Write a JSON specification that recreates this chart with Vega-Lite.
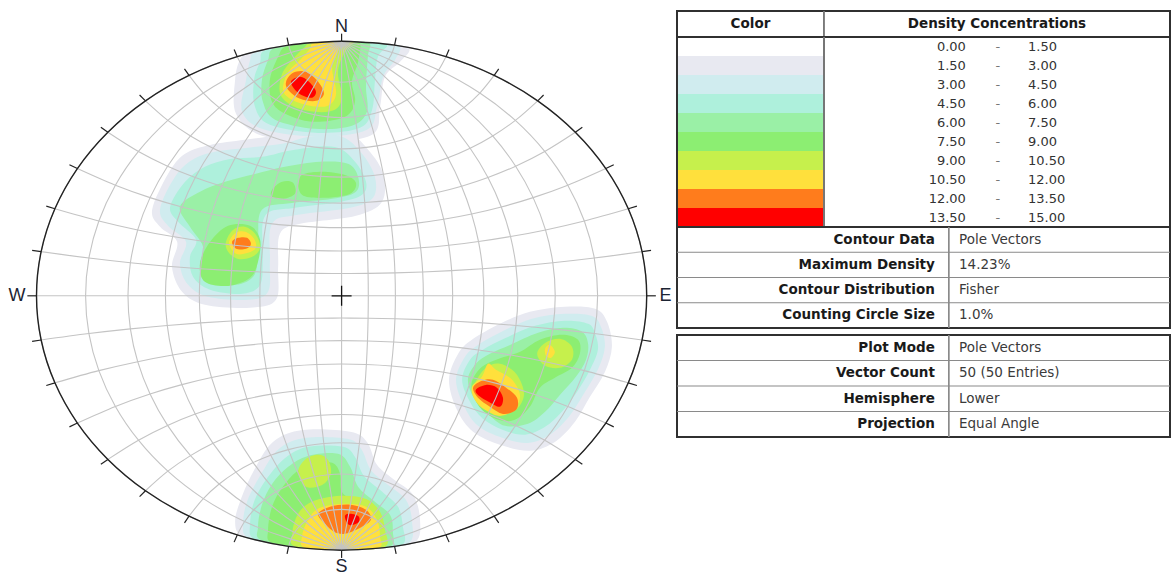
{
"$schema": "https://vega.github.io/schema/vega-lite/v6.json",
"padding": {"left": 0, "top": 9, "right": 0, "bottom": 0},
"background": "white",
"spacing": 0,
"bounds": "flush",
"config": {"view": {"stroke": "#303030", "strokeWidth": 2}},
"datasets": {
"net": [
{"l":-90,"p":90,"x":0,"y":1},{"l":-80,"p":90,"x":0,"y":1},{"l":-70,"p":90,"x":0,"y":1},{"l":-60,"p":90,"x":0,"y":1},{"l":-50,"p":90,"x":0,"y":1},{"l":-40,"p":90,"x":0,"y":1},{"l":-30,"p":90,"x":0,"y":1},{"l":-20,"p":90,"x":0,"y":1},{"l":-10,"p":90,"x":0,"y":1},{"l":0,"p":90,"x":0,"y":1},{"l":10,"p":90,"x":0,"y":1},{"l":20,"p":90,"x":0,"y":1},{"l":30,"p":90,"x":0,"y":1},{"l":40,"p":90,"x":0,"y":1},{"l":50,"p":90,"x":0,"y":1},{"l":60,"p":90,"x":0,"y":1},{"l":70,"p":90,"x":0,"y":1},{"l":80,"p":90,"x":0,"y":1},{"l":90,"p":90,"x":0,"y":1},
{"l":-90,"p":80,"x":-0.1736,"y":0.9848},{"l":-80,"p":80,"x":-0.166,"y":0.956},{"l":-70,"p":80,"x":-0.154,"y":0.9296},{"l":-60,"p":80,"x":-0.1384,"y":0.9061},{"l":-50,"p":80,"x":-0.1197,"y":0.8859},{"l":-40,"p":80,"x":-0.0985,"y":0.8692},{"l":-30,"p":80,"x":-0.0755,"y":0.8561},{"l":-20,"p":80,"x":-0.0511,"y":0.8467},{"l":-10,"p":80,"x":-0.0258,"y":0.841},{"l":0,"p":80,"x":0,"y":0.8391},{"l":10,"p":80,"x":0.0258,"y":0.841},{"l":20,"p":80,"x":0.0511,"y":0.8467},{"l":30,"p":80,"x":0.0755,"y":0.8561},{"l":40,"p":80,"x":0.0985,"y":0.8692},{"l":50,"p":80,"x":0.1197,"y":0.8859},{"l":60,"p":80,"x":0.1384,"y":0.9061},{"l":70,"p":80,"x":0.154,"y":0.9296},{"l":80,"p":80,"x":0.166,"y":0.956},{"l":90,"p":80,"x":0.1736,"y":0.9848},
{"l":-90,"p":70,"x":-0.342,"y":0.9397},{"l":-80,"p":70,"x":-0.3179,"y":0.887},{"l":-70,"p":70,"x":-0.2877,"y":0.8413},{"l":-60,"p":70,"x":-0.2529,"y":0.8025},{"l":-50,"p":70,"x":-0.2148,"y":0.7703},{"l":-40,"p":70,"x":-0.1742,"y":0.7446},{"l":-30,"p":70,"x":-0.1319,"y":0.725},{"l":-20,"p":70,"x":-0.0885,"y":0.7111},{"l":-10,"p":70,"x":-0.0444,"y":0.7029},{"l":0,"p":70,"x":0,"y":0.7002},{"l":10,"p":70,"x":0.0444,"y":0.7029},{"l":20,"p":70,"x":0.0885,"y":0.7111},{"l":30,"p":70,"x":0.1319,"y":0.725},{"l":40,"p":70,"x":0.1742,"y":0.7446},{"l":50,"p":70,"x":0.2148,"y":0.7703},{"l":60,"p":70,"x":0.2529,"y":0.8025},{"l":70,"p":70,"x":0.2877,"y":0.8413},{"l":80,"p":70,"x":0.3179,"y":0.887},{"l":90,"p":70,"x":0.342,"y":0.9397},
{"l":-90,"p":60,"x":-0.5,"y":0.866},{"l":-80,"p":60,"x":-0.4531,"y":0.7968},{"l":-70,"p":60,"x":-0.4012,"y":0.7396},{"l":-60,"p":60,"x":-0.3464,"y":0.6928},{"l":-50,"p":60,"x":-0.2899,"y":0.6554},{"l":-40,"p":60,"x":-0.2324,"y":0.6262},{"l":-30,"p":60,"x":-0.1745,"y":0.6043},{"l":-20,"p":60,"x":-0.1164,"y":0.5892},{"l":-10,"p":60,"x":-0.0582,"y":0.5803},{"l":0,"p":60,"x":0,"y":0.5774},{"l":10,"p":60,"x":0.0582,"y":0.5803},{"l":20,"p":60,"x":0.1164,"y":0.5892},{"l":30,"p":60,"x":0.1745,"y":0.6043},{"l":40,"p":60,"x":0.2324,"y":0.6262},{"l":50,"p":60,"x":0.2899,"y":0.6554},{"l":60,"p":60,"x":0.3464,"y":0.6928},{"l":70,"p":60,"x":0.4012,"y":0.7396},{"l":80,"p":60,"x":0.4531,"y":0.7968},{"l":90,"p":60,"x":0.5,"y":0.866},
{"l":-90,"p":50,"x":-0.6428,"y":0.766},{"l":-80,"p":50,"x":-0.5695,"y":0.6891},{"l":-70,"p":50,"x":-0.4952,"y":0.628},{"l":-60,"p":50,"x":-0.4213,"y":0.5797},{"l":-50,"p":50,"x":-0.3484,"y":0.5421},{"l":-40,"p":50,"x":-0.2769,"y":0.5133},{"l":-30,"p":50,"x":-0.2065,"y":0.4921},{"l":-20,"p":50,"x":-0.1371,"y":0.4776},{"l":-10,"p":50,"x":-0.0684,"y":0.4691},{"l":0,"p":50,"x":0,"y":0.4663},{"l":10,"p":50,"x":0.0684,"y":0.4691},{"l":20,"p":50,"x":0.1371,"y":0.4776},{"l":30,"p":50,"x":0.2065,"y":0.4921},{"l":40,"p":50,"x":0.2769,"y":0.5133},{"l":50,"p":50,"x":0.3484,"y":0.5421},{"l":60,"p":50,"x":0.4213,"y":0.5797},{"l":70,"p":50,"x":0.4952,"y":0.628},{"l":80,"p":50,"x":0.5695,"y":0.6891},{"l":90,"p":50,"x":0.6428,"y":0.766},
{"l":-90,"p":40,"x":-0.766,"y":0.6428},{"l":-80,"p":40,"x":-0.6658,"y":0.5673},{"l":-70,"p":40,"x":-0.5704,"y":0.5093},{"l":-60,"p":40,"x":-0.4797,"y":0.4648},{"l":-50,"p":40,"x":-0.3932,"y":0.4307},{"l":-40,"p":40,"x":-0.3103,"y":0.4051},{"l":-30,"p":40,"x":-0.2303,"y":0.3864},{"l":-20,"p":40,"x":-0.1523,"y":0.3738},{"l":-10,"p":40,"x":-0.0758,"y":0.3664},{"l":0,"p":40,"x":0,"y":0.364},{"l":10,"p":40,"x":0.0758,"y":0.3664},{"l":20,"p":40,"x":0.1523,"y":0.3738},{"l":30,"p":40,"x":0.2303,"y":0.3864},{"l":40,"p":40,"x":0.3103,"y":0.4051},{"l":50,"p":40,"x":0.3932,"y":0.4307},{"l":60,"p":40,"x":0.4797,"y":0.4648},{"l":70,"p":40,"x":0.5704,"y":0.5093},{"l":80,"p":40,"x":0.6658,"y":0.5673},{"l":90,"p":40,"x":0.766,"y":0.6428},
{"l":-90,"p":30,"x":-0.866,"y":0.5},{"l":-80,"p":30,"x":-0.7414,"y":0.4346},{"l":-70,"p":30,"x":-0.6278,"y":0.3857},{"l":-60,"p":30,"x":-0.5234,"y":0.3489},{"l":-50,"p":30,"x":-0.4262,"y":0.3212},{"l":-40,"p":30,"x":-0.3347,"y":0.3006},{"l":-30,"p":30,"x":-0.2474,"y":0.2857},{"l":-20,"p":30,"x":-0.1633,"y":0.2757},{"l":-10,"p":30,"x":-0.0812,"y":0.2699},{"l":0,"p":30,"x":0,"y":0.2679},{"l":10,"p":30,"x":0.0812,"y":0.2699},{"l":20,"p":30,"x":0.1633,"y":0.2757},{"l":30,"p":30,"x":0.2474,"y":0.2857},{"l":40,"p":30,"x":0.3347,"y":0.3006},{"l":50,"p":30,"x":0.4262,"y":0.3212},{"l":60,"p":30,"x":0.5234,"y":0.3489},{"l":70,"p":30,"x":0.6278,"y":0.3857},{"l":80,"p":30,"x":0.7414,"y":0.4346},{"l":90,"p":30,"x":0.866,"y":0.5},
{"l":-90,"p":20,"x":-0.9397,"y":0.342},{"l":-80,"p":20,"x":-0.7956,"y":0.294},{"l":-70,"p":20,"x":-0.6683,"y":0.2588},{"l":-60,"p":20,"x":-0.5537,"y":0.2327},{"l":-50,"p":20,"x":-0.4488,"y":0.2132},{"l":-40,"p":20,"x":-0.3512,"y":0.1989},{"l":-30,"p":20,"x":-0.259,"y":0.1886},{"l":-20,"p":20,"x":-0.1707,"y":0.1816},{"l":-10,"p":20,"x":-0.0848,"y":0.1776},{"l":0,"p":20,"x":0,"y":0.1763},{"l":10,"p":20,"x":0.0848,"y":0.1776},{"l":20,"p":20,"x":0.1707,"y":0.1816},{"l":30,"p":20,"x":0.259,"y":0.1886},{"l":40,"p":20,"x":0.3512,"y":0.1989},{"l":50,"p":20,"x":0.4488,"y":0.2132},{"l":60,"p":20,"x":0.5537,"y":0.2327},{"l":70,"p":20,"x":0.6683,"y":0.2588},{"l":80,"p":20,"x":0.7956,"y":0.294},{"l":90,"p":20,"x":0.9397,"y":0.342},
{"l":-90,"p":10,"x":-0.9848,"y":0.1736},{"l":-80,"p":10,"x":-0.8282,"y":0.1483},{"l":-70,"p":10,"x":-0.6923,"y":0.1299},{"l":-60,"p":10,"x":-0.5715,"y":0.1164},{"l":-50,"p":10,"x":-0.462,"y":0.1063},{"l":-40,"p":10,"x":-0.3608,"y":0.099},{"l":-30,"p":10,"x":-0.2658,"y":0.0937},{"l":-20,"p":10,"x":-0.1749,"y":0.0902},{"l":-10,"p":10,"x":-0.0868,"y":0.0882},{"l":0,"p":10,"x":0,"y":0.0875},{"l":10,"p":10,"x":0.0868,"y":0.0882},{"l":20,"p":10,"x":0.1749,"y":0.0902},{"l":30,"p":10,"x":0.2658,"y":0.0937},{"l":40,"p":10,"x":0.3608,"y":0.099},{"l":50,"p":10,"x":0.462,"y":0.1063},{"l":60,"p":10,"x":0.5715,"y":0.1164},{"l":70,"p":10,"x":0.6923,"y":0.1299},{"l":80,"p":10,"x":0.8282,"y":0.1483},{"l":90,"p":10,"x":0.9848,"y":0.1736},
{"l":-90,"p":0,"x":-1,"y":0},{"l":-80,"p":0,"x":-0.8391,"y":0},{"l":-70,"p":0,"x":-0.7002,"y":0},{"l":-60,"p":0,"x":-0.5774,"y":0},{"l":-50,"p":0,"x":-0.4663,"y":0},{"l":-40,"p":0,"x":-0.364,"y":0},{"l":-30,"p":0,"x":-0.2679,"y":0},{"l":-20,"p":0,"x":-0.1763,"y":0},{"l":-10,"p":0,"x":-0.0875,"y":0},{"l":0,"p":0,"x":0,"y":0},{"l":10,"p":0,"x":0.0875,"y":0},{"l":20,"p":0,"x":0.1763,"y":0},{"l":30,"p":0,"x":0.2679,"y":0},{"l":40,"p":0,"x":0.364,"y":0},{"l":50,"p":0,"x":0.4663,"y":0},{"l":60,"p":0,"x":0.5774,"y":0},{"l":70,"p":0,"x":0.7002,"y":0},{"l":80,"p":0,"x":0.8391,"y":0},{"l":90,"p":0,"x":1,"y":0},
{"l":-90,"p":-10,"x":-0.9848,"y":-0.1736},{"l":-80,"p":-10,"x":-0.8282,"y":-0.1483},{"l":-70,"p":-10,"x":-0.6923,"y":-0.1299},{"l":-60,"p":-10,"x":-0.5715,"y":-0.1164},{"l":-50,"p":-10,"x":-0.462,"y":-0.1063},{"l":-40,"p":-10,"x":-0.3608,"y":-0.099},{"l":-30,"p":-10,"x":-0.2658,"y":-0.0937},{"l":-20,"p":-10,"x":-0.1749,"y":-0.0902},{"l":-10,"p":-10,"x":-0.0868,"y":-0.0882},{"l":0,"p":-10,"x":0,"y":-0.0875},{"l":10,"p":-10,"x":0.0868,"y":-0.0882},{"l":20,"p":-10,"x":0.1749,"y":-0.0902},{"l":30,"p":-10,"x":0.2658,"y":-0.0937},{"l":40,"p":-10,"x":0.3608,"y":-0.099},{"l":50,"p":-10,"x":0.462,"y":-0.1063},{"l":60,"p":-10,"x":0.5715,"y":-0.1164},{"l":70,"p":-10,"x":0.6923,"y":-0.1299},{"l":80,"p":-10,"x":0.8282,"y":-0.1483},{"l":90,"p":-10,"x":0.9848,"y":-0.1736},
{"l":-90,"p":-20,"x":-0.9397,"y":-0.342},{"l":-80,"p":-20,"x":-0.7956,"y":-0.294},{"l":-70,"p":-20,"x":-0.6683,"y":-0.2588},{"l":-60,"p":-20,"x":-0.5537,"y":-0.2327},{"l":-50,"p":-20,"x":-0.4488,"y":-0.2132},{"l":-40,"p":-20,"x":-0.3512,"y":-0.1989},{"l":-30,"p":-20,"x":-0.259,"y":-0.1886},{"l":-20,"p":-20,"x":-0.1707,"y":-0.1816},{"l":-10,"p":-20,"x":-0.0848,"y":-0.1776},{"l":0,"p":-20,"x":0,"y":-0.1763},{"l":10,"p":-20,"x":0.0848,"y":-0.1776},{"l":20,"p":-20,"x":0.1707,"y":-0.1816},{"l":30,"p":-20,"x":0.259,"y":-0.1886},{"l":40,"p":-20,"x":0.3512,"y":-0.1989},{"l":50,"p":-20,"x":0.4488,"y":-0.2132},{"l":60,"p":-20,"x":0.5537,"y":-0.2327},{"l":70,"p":-20,"x":0.6683,"y":-0.2588},{"l":80,"p":-20,"x":0.7956,"y":-0.294},{"l":90,"p":-20,"x":0.9397,"y":-0.342},
{"l":-90,"p":-30,"x":-0.866,"y":-0.5},{"l":-80,"p":-30,"x":-0.7414,"y":-0.4346},{"l":-70,"p":-30,"x":-0.6278,"y":-0.3857},{"l":-60,"p":-30,"x":-0.5234,"y":-0.3489},{"l":-50,"p":-30,"x":-0.4262,"y":-0.3212},{"l":-40,"p":-30,"x":-0.3347,"y":-0.3006},{"l":-30,"p":-30,"x":-0.2474,"y":-0.2857},{"l":-20,"p":-30,"x":-0.1633,"y":-0.2757},{"l":-10,"p":-30,"x":-0.0812,"y":-0.2699},{"l":0,"p":-30,"x":0,"y":-0.2679},{"l":10,"p":-30,"x":0.0812,"y":-0.2699},{"l":20,"p":-30,"x":0.1633,"y":-0.2757},{"l":30,"p":-30,"x":0.2474,"y":-0.2857},{"l":40,"p":-30,"x":0.3347,"y":-0.3006},{"l":50,"p":-30,"x":0.4262,"y":-0.3212},{"l":60,"p":-30,"x":0.5234,"y":-0.3489},{"l":70,"p":-30,"x":0.6278,"y":-0.3857},{"l":80,"p":-30,"x":0.7414,"y":-0.4346},{"l":90,"p":-30,"x":0.866,"y":-0.5},
{"l":-90,"p":-40,"x":-0.766,"y":-0.6428},{"l":-80,"p":-40,"x":-0.6658,"y":-0.5673},{"l":-70,"p":-40,"x":-0.5704,"y":-0.5093},{"l":-60,"p":-40,"x":-0.4797,"y":-0.4648},{"l":-50,"p":-40,"x":-0.3932,"y":-0.4307},{"l":-40,"p":-40,"x":-0.3103,"y":-0.4051},{"l":-30,"p":-40,"x":-0.2303,"y":-0.3864},{"l":-20,"p":-40,"x":-0.1523,"y":-0.3738},{"l":-10,"p":-40,"x":-0.0758,"y":-0.3664},{"l":0,"p":-40,"x":0,"y":-0.364},{"l":10,"p":-40,"x":0.0758,"y":-0.3664},{"l":20,"p":-40,"x":0.1523,"y":-0.3738},{"l":30,"p":-40,"x":0.2303,"y":-0.3864},{"l":40,"p":-40,"x":0.3103,"y":-0.4051},{"l":50,"p":-40,"x":0.3932,"y":-0.4307},{"l":60,"p":-40,"x":0.4797,"y":-0.4648},{"l":70,"p":-40,"x":0.5704,"y":-0.5093},{"l":80,"p":-40,"x":0.6658,"y":-0.5673},{"l":90,"p":-40,"x":0.766,"y":-0.6428},
{"l":-90,"p":-50,"x":-0.6428,"y":-0.766},{"l":-80,"p":-50,"x":-0.5695,"y":-0.6891},{"l":-70,"p":-50,"x":-0.4952,"y":-0.628},{"l":-60,"p":-50,"x":-0.4213,"y":-0.5797},{"l":-50,"p":-50,"x":-0.3484,"y":-0.5421},{"l":-40,"p":-50,"x":-0.2769,"y":-0.5133},{"l":-30,"p":-50,"x":-0.2065,"y":-0.4921},{"l":-20,"p":-50,"x":-0.1371,"y":-0.4776},{"l":-10,"p":-50,"x":-0.0684,"y":-0.4691},{"l":0,"p":-50,"x":0,"y":-0.4663},{"l":10,"p":-50,"x":0.0684,"y":-0.4691},{"l":20,"p":-50,"x":0.1371,"y":-0.4776},{"l":30,"p":-50,"x":0.2065,"y":-0.4921},{"l":40,"p":-50,"x":0.2769,"y":-0.5133},{"l":50,"p":-50,"x":0.3484,"y":-0.5421},{"l":60,"p":-50,"x":0.4213,"y":-0.5797},{"l":70,"p":-50,"x":0.4952,"y":-0.628},{"l":80,"p":-50,"x":0.5695,"y":-0.6891},{"l":90,"p":-50,"x":0.6428,"y":-0.766},
{"l":-90,"p":-60,"x":-0.5,"y":-0.866},{"l":-80,"p":-60,"x":-0.4531,"y":-0.7968},{"l":-70,"p":-60,"x":-0.4012,"y":-0.7396},{"l":-60,"p":-60,"x":-0.3464,"y":-0.6928},{"l":-50,"p":-60,"x":-0.2899,"y":-0.6554},{"l":-40,"p":-60,"x":-0.2324,"y":-0.6262},{"l":-30,"p":-60,"x":-0.1745,"y":-0.6043},{"l":-20,"p":-60,"x":-0.1164,"y":-0.5892},{"l":-10,"p":-60,"x":-0.0582,"y":-0.5803},{"l":0,"p":-60,"x":0,"y":-0.5774},{"l":10,"p":-60,"x":0.0582,"y":-0.5803},{"l":20,"p":-60,"x":0.1164,"y":-0.5892},{"l":30,"p":-60,"x":0.1745,"y":-0.6043},{"l":40,"p":-60,"x":0.2324,"y":-0.6262},{"l":50,"p":-60,"x":0.2899,"y":-0.6554},{"l":60,"p":-60,"x":0.3464,"y":-0.6928},{"l":70,"p":-60,"x":0.4012,"y":-0.7396},{"l":80,"p":-60,"x":0.4531,"y":-0.7968},{"l":90,"p":-60,"x":0.5,"y":-0.866},
{"l":-90,"p":-70,"x":-0.342,"y":-0.9397},{"l":-80,"p":-70,"x":-0.3179,"y":-0.887},{"l":-70,"p":-70,"x":-0.2877,"y":-0.8413},{"l":-60,"p":-70,"x":-0.2529,"y":-0.8025},{"l":-50,"p":-70,"x":-0.2148,"y":-0.7703},{"l":-40,"p":-70,"x":-0.1742,"y":-0.7446},{"l":-30,"p":-70,"x":-0.1319,"y":-0.725},{"l":-20,"p":-70,"x":-0.0885,"y":-0.7111},{"l":-10,"p":-70,"x":-0.0444,"y":-0.7029},{"l":0,"p":-70,"x":0,"y":-0.7002},{"l":10,"p":-70,"x":0.0444,"y":-0.7029},{"l":20,"p":-70,"x":0.0885,"y":-0.7111},{"l":30,"p":-70,"x":0.1319,"y":-0.725},{"l":40,"p":-70,"x":0.1742,"y":-0.7446},{"l":50,"p":-70,"x":0.2148,"y":-0.7703},{"l":60,"p":-70,"x":0.2529,"y":-0.8025},{"l":70,"p":-70,"x":0.2877,"y":-0.8413},{"l":80,"p":-70,"x":0.3179,"y":-0.887},{"l":90,"p":-70,"x":0.342,"y":-0.9397},
{"l":-90,"p":-80,"x":-0.1736,"y":-0.9848},{"l":-80,"p":-80,"x":-0.166,"y":-0.956},{"l":-70,"p":-80,"x":-0.154,"y":-0.9296},{"l":-60,"p":-80,"x":-0.1384,"y":-0.9061},{"l":-50,"p":-80,"x":-0.1197,"y":-0.8859},{"l":-40,"p":-80,"x":-0.0985,"y":-0.8692},{"l":-30,"p":-80,"x":-0.0755,"y":-0.8561},{"l":-20,"p":-80,"x":-0.0511,"y":-0.8467},{"l":-10,"p":-80,"x":-0.0258,"y":-0.841},{"l":0,"p":-80,"x":0,"y":-0.8391},{"l":10,"p":-80,"x":0.0258,"y":-0.841},{"l":20,"p":-80,"x":0.0511,"y":-0.8467},{"l":30,"p":-80,"x":0.0755,"y":-0.8561},{"l":40,"p":-80,"x":0.0985,"y":-0.8692},{"l":50,"p":-80,"x":0.1197,"y":-0.8859},{"l":60,"p":-80,"x":0.1384,"y":-0.9061},{"l":70,"p":-80,"x":0.154,"y":-0.9296},{"l":80,"p":-80,"x":0.166,"y":-0.956},{"l":90,"p":-80,"x":0.1736,"y":-0.9848},
{"l":-90,"p":-90,"x":0,"y":-1},{"l":-80,"p":-90,"x":0,"y":-1},{"l":-70,"p":-90,"x":0,"y":-1},{"l":-60,"p":-90,"x":0,"y":-1},{"l":-50,"p":-90,"x":0,"y":-1},{"l":-40,"p":-90,"x":0,"y":-1},{"l":-30,"p":-90,"x":0,"y":-1},{"l":-20,"p":-90,"x":0,"y":-1},{"l":-10,"p":-90,"x":0,"y":-1},{"l":0,"p":-90,"x":0,"y":-1},{"l":10,"p":-90,"x":0,"y":-1},{"l":20,"p":-90,"x":0,"y":-1},{"l":30,"p":-90,"x":0,"y":-1},{"l":40,"p":-90,"x":0,"y":-1},{"l":50,"p":-90,"x":0,"y":-1},{"l":60,"p":-90,"x":0,"y":-1},{"l":70,"p":-90,"x":0,"y":-1},{"l":80,"p":-90,"x":0,"y":-1},{"l":90,"p":-90,"x":0,"y":-1}
],
"ticks": [
{"az":0,"x":0,"y":1,"x2":0,"y2":1.03},{"az":10,"x":0.1736,"y":0.9848,"x2":0.1788,"y2":1.0143},{"az":20,"x":0.342,"y":0.9397,"x2":0.3523,"y2":0.9679},{"az":30,"x":0.5,"y":0.866,"x2":0.515,"y2":0.892},{"az":40,"x":0.6428,"y":0.766,"x2":0.6621,"y2":0.789},{"az":50,"x":0.766,"y":0.6428,"x2":0.789,"y2":0.6621},{"az":60,"x":0.866,"y":0.5,"x2":0.892,"y2":0.515},{"az":70,"x":0.9397,"y":0.342,"x2":0.9679,"y2":0.3523},{"az":80,"x":0.9848,"y":0.1736,"x2":1.0143,"y2":0.1788},
{"az":90,"x":1,"y":0,"x2":1.03,"y2":0},{"az":100,"x":0.9848,"y":-0.1736,"x2":1.0143,"y2":-0.1788},{"az":110,"x":0.9397,"y":-0.342,"x2":0.9679,"y2":-0.3523},{"az":120,"x":0.866,"y":-0.5,"x2":0.892,"y2":-0.515},{"az":130,"x":0.766,"y":-0.6428,"x2":0.789,"y2":-0.6621},{"az":140,"x":0.6428,"y":-0.766,"x2":0.6621,"y2":-0.789},{"az":150,"x":0.5,"y":-0.866,"x2":0.515,"y2":-0.892},{"az":160,"x":0.342,"y":-0.9397,"x2":0.3523,"y2":-0.9679},{"az":170,"x":0.1736,"y":-0.9848,"x2":0.1788,"y2":-1.0143},
{"az":180,"x":0,"y":-1,"x2":0,"y2":-1.03},{"az":190,"x":-0.1736,"y":-0.9848,"x2":-0.1788,"y2":-1.0143},{"az":200,"x":-0.342,"y":-0.9397,"x2":-0.3523,"y2":-0.9679},{"az":210,"x":-0.5,"y":-0.866,"x2":-0.515,"y2":-0.892},{"az":220,"x":-0.6428,"y":-0.766,"x2":-0.6621,"y2":-0.789},{"az":230,"x":-0.766,"y":-0.6428,"x2":-0.789,"y2":-0.6621},{"az":240,"x":-0.866,"y":-0.5,"x2":-0.892,"y2":-0.515},{"az":250,"x":-0.9397,"y":-0.342,"x2":-0.9679,"y2":-0.3523},{"az":260,"x":-0.9848,"y":-0.1736,"x2":-1.0143,"y2":-0.1788},
{"az":270,"x":-1,"y":0,"x2":-1.03,"y2":0},{"az":280,"x":-0.9848,"y":0.1736,"x2":-1.0143,"y2":0.1788},{"az":290,"x":-0.9397,"y":0.342,"x2":-0.9679,"y2":0.3523},{"az":300,"x":-0.866,"y":0.5,"x2":-0.892,"y2":0.515},{"az":310,"x":-0.766,"y":0.6428,"x2":-0.789,"y2":0.6621},{"az":320,"x":-0.6428,"y":0.766,"x2":-0.6621,"y2":0.789},{"az":330,"x":-0.5,"y":0.866,"x2":-0.515,"y2":0.892},{"az":340,"x":-0.342,"y":0.9397,"x2":-0.3523,"y2":0.9679},{"az":350,"x":-0.1736,"y":0.9848,"x2":-0.1788,"y2":1.0143}
],
"dens": [
{"id":"02A","v":2,"x":-0.346,"y":0.715},{"id":"02A","v":2,"x":-0.349,"y":0.849},{"id":"02A","v":2,"x":-0.333,"y":0.927},{"id":"02A","v":2,"x":-0.3,"y":0.951},{"id":"02A","v":2,"x":-0.15,"y":0.986},{"id":"02A","v":2,"x":0,"y":0.997},{"id":"02A","v":2,"x":0.12,"y":0.99},{"id":"02A","v":2,"x":0.22,"y":0.973},{"id":"02A","v":2,"x":0.191,"y":0.919},{"id":"02A","v":2,"x":0.142,"y":0.861},{"id":"02A","v":2,"x":0.126,"y":0.743},{"id":"02A","v":2,"x":0.1,"y":0.633},{"id":"02A","v":2,"x":-0.071,"y":0.605},{"id":"02A","v":2,"x":-0.261,"y":0.629},
{"id":"02B","v":2,"x":-0.621,"y":0.338},{"id":"02B","v":2,"x":-0.569,"y":0.479},{"id":"02B","v":2,"x":-0.513,"y":0.558},{"id":"02B","v":2,"x":-0.431,"y":0.593},{"id":"02B","v":2,"x":-0.317,"y":0.613},{"id":"02B","v":2,"x":-0.202,"y":0.633},{"id":"02B","v":2,"x":-0.104,"y":0.656},{"id":"02B","v":2,"x":0.011,"y":0.652},{"id":"02B","v":2,"x":0.087,"y":0.574},{"id":"02B","v":2,"x":0.136,"y":0.479},{"id":"02B","v":2,"x":0.132,"y":0.369},{"id":"02B","v":2,"x":0.044,"y":0.314},{"id":"02B","v":2,"x":-0.136,"y":0.283},{"id":"02B","v":2,"x":-0.202,"y":0.244},{"id":"02B","v":2,"x":-0.208,"y":0.114},{"id":"02B","v":2,"x":-0.215,"y":-0.016},{"id":"02B","v":2,"x":-0.3,"y":-0.047},{"id":"02B","v":2,"x":-0.448,"y":-0.035},{"id":"02B","v":2,"x":-0.523,"y":0.016},{"id":"02B","v":2,"x":-0.556,"y":0.114},{"id":"02B","v":2,"x":-0.539,"y":0.212},{"id":"02B","v":2,"x":-0.595,"y":0.271},
{"id":"02C","v":2,"x":0.352,"y":-0.33},{"id":"02C","v":2,"x":0.382,"y":-0.228},{"id":"02C","v":2,"x":0.427,"y":-0.173},{"id":"02C","v":2,"x":0.519,"y":-0.11},{"id":"02C","v":2,"x":0.617,"y":-0.063},{"id":"02C","v":2,"x":0.732,"y":-0.043},{"id":"02C","v":2,"x":0.831,"y":-0.051},{"id":"02C","v":2,"x":0.87,"y":-0.102},{"id":"02C","v":2,"x":0.886,"y":-0.2},{"id":"02C","v":2,"x":0.863,"y":-0.299},{"id":"02C","v":2,"x":0.814,"y":-0.397},{"id":"02C","v":2,"x":0.765,"y":-0.495},{"id":"02C","v":2,"x":0.699,"y":-0.574},{"id":"02C","v":2,"x":0.617,"y":-0.609},{"id":"02C","v":2,"x":0.519,"y":-0.585},{"id":"02C","v":2,"x":0.431,"y":-0.534},{"id":"02C","v":2,"x":0.378,"y":-0.448},
{"id":"02D","v":2,"x":-0.349,"y":-0.888},{"id":"02D","v":2,"x":-0.333,"y":-0.809},{"id":"02D","v":2,"x":-0.29,"y":-0.692},{"id":"02D","v":2,"x":-0.225,"y":-0.574},{"id":"02D","v":2,"x":-0.127,"y":-0.527},{"id":"02D","v":2,"x":0.028,"y":-0.534},{"id":"02D","v":2,"x":0.083,"y":-0.574},{"id":"02D","v":2,"x":0.116,"y":-0.664},{"id":"02D","v":2,"x":0.168,"y":-0.719},{"id":"02D","v":2,"x":0.234,"y":-0.782},{"id":"02D","v":2,"x":0.257,"y":-0.88},{"id":"02D","v":2,"x":0.24,"y":-0.968},{"id":"02D","v":2,"x":0.12,"y":-0.99},{"id":"02D","v":2,"x":0,"y":-0.997},{"id":"02D","v":2,"x":-0.12,"y":-0.99},{"id":"02D","v":2,"x":-0.24,"y":-0.968},{"id":"02D","v":2,"x":-0.33,"y":-0.941},
{"id":"03A","v":3,"x":-0.326,"y":0.723},{"id":"03A","v":3,"x":-0.313,"y":0.849},{"id":"03A","v":3,"x":-0.3,"y":0.925},{"id":"03A","v":3,"x":-0.28,"y":0.957},{"id":"03A","v":3,"x":-0.15,"y":0.986},{"id":"03A","v":3,"x":0,"y":0.997},{"id":"03A","v":3,"x":0.12,"y":0.99},{"id":"03A","v":3,"x":0.19,"y":0.979},{"id":"03A","v":3,"x":0.175,"y":0.927},{"id":"03A","v":3,"x":0.136,"y":0.861},{"id":"03A","v":3,"x":0.116,"y":0.743},{"id":"03A","v":3,"x":0.083,"y":0.652},{"id":"03A","v":3,"x":-0.071,"y":0.625},{"id":"03A","v":3,"x":-0.251,"y":0.652},
{"id":"03B","v":3,"x":-0.595,"y":0.342},{"id":"03B","v":3,"x":-0.546,"y":0.468},{"id":"03B","v":3,"x":-0.49,"y":0.534},{"id":"03B","v":3,"x":-0.415,"y":0.566},{"id":"03B","v":3,"x":-0.307,"y":0.582},{"id":"03B","v":3,"x":-0.195,"y":0.597},{"id":"03B","v":3,"x":-0.104,"y":0.625},{"id":"03B","v":3,"x":0.001,"y":0.625},{"id":"03B","v":3,"x":0.067,"y":0.558},{"id":"03B","v":3,"x":0.109,"y":0.468},{"id":"03B","v":3,"x":0.103,"y":0.385},{"id":"03B","v":3,"x":0.028,"y":0.346},{"id":"03B","v":3,"x":-0.143,"y":0.318},{"id":"03B","v":3,"x":-0.228,"y":0.283},{"id":"03B","v":3,"x":-0.235,"y":0.134},{"id":"03B","v":3,"x":-0.241,"y":0.016},{"id":"03B","v":3,"x":-0.307,"y":-0.016},{"id":"03B","v":3,"x":-0.438,"y":-0.004},{"id":"03B","v":3,"x":-0.503,"y":0.043},{"id":"03B","v":3,"x":-0.53,"y":0.126},{"id":"03B","v":3,"x":-0.51,"y":0.212},{"id":"03B","v":3,"x":-0.569,"y":0.275},
{"id":"03C","v":3,"x":0.375,"y":-0.33},{"id":"03C","v":3,"x":0.404,"y":-0.24},{"id":"03C","v":3,"x":0.447,"y":-0.193},{"id":"03C","v":3,"x":0.529,"y":-0.138},{"id":"03C","v":3,"x":0.624,"y":-0.09},{"id":"03C","v":3,"x":0.732,"y":-0.071},{"id":"03C","v":3,"x":0.821,"y":-0.079},{"id":"03C","v":3,"x":0.85,"y":-0.122},{"id":"03C","v":3,"x":0.863,"y":-0.2},{"id":"03C","v":3,"x":0.84,"y":-0.29},{"id":"03C","v":3,"x":0.794,"y":-0.385},{"id":"03C","v":3,"x":0.745,"y":-0.475},{"id":"03C","v":3,"x":0.683,"y":-0.546},{"id":"03C","v":3,"x":0.611,"y":-0.578},{"id":"03C","v":3,"x":0.526,"y":-0.558},{"id":"03C","v":3,"x":0.447,"y":-0.511},{"id":"03C","v":3,"x":0.401,"y":-0.432},
{"id":"03D","v":3,"x":-0.323,"y":-0.896},{"id":"03D","v":3,"x":-0.31,"y":-0.809},{"id":"03D","v":3,"x":-0.267,"y":-0.707},{"id":"03D","v":3,"x":-0.205,"y":-0.601},{"id":"03D","v":3,"x":-0.117,"y":-0.558},{"id":"03D","v":3,"x":0.018,"y":-0.562},{"id":"03D","v":3,"x":0.064,"y":-0.601},{"id":"03D","v":3,"x":0.096,"y":-0.684},{"id":"03D","v":3,"x":0.153,"y":-0.743},{"id":"03D","v":3,"x":0.211,"y":-0.802},{"id":"03D","v":3,"x":0.231,"y":-0.888},{"id":"03D","v":3,"x":0.22,"y":-0.972},{"id":"03D","v":3,"x":0.1,"y":-0.992},{"id":"03D","v":3,"x":-0.1,"y":-0.992},{"id":"03D","v":3,"x":-0.22,"y":-0.972},{"id":"03D","v":3,"x":-0.31,"y":-0.948},
{"id":"04A","v":4,"x":-0.284,"y":0.743},{"id":"04A","v":4,"x":-0.287,"y":0.849},{"id":"04A","v":4,"x":-0.267,"y":0.919},{"id":"04A","v":4,"x":-0.25,"y":0.965},{"id":"04A","v":4,"x":-0.12,"y":0.99},{"id":"04A","v":4,"x":0,"y":0.997},{"id":"04A","v":4,"x":0.1,"y":0.992},{"id":"04A","v":4,"x":0.15,"y":0.985},{"id":"04A","v":4,"x":0.119,"y":0.939},{"id":"04A","v":4,"x":0.109,"y":0.841},{"id":"04A","v":4,"x":0.1,"y":0.731},{"id":"04A","v":4,"x":0.06,"y":0.66},{"id":"04A","v":4,"x":-0.077,"y":0.64},{"id":"04A","v":4,"x":-0.235,"y":0.672},
{"id":"04B","v":4,"x":-0.562,"y":0.35},{"id":"04B","v":4,"x":-0.513,"y":0.448},{"id":"04B","v":4,"x":-0.448,"y":0.507},{"id":"04B","v":4,"x":-0.366,"y":0.538},{"id":"04B","v":4,"x":-0.261,"y":0.546},{"id":"04B","v":4,"x":-0.153,"y":0.574},{"id":"04B","v":4,"x":-0.022,"y":0.585},{"id":"04B","v":4,"x":0.044,"y":0.527},{"id":"04B","v":4,"x":0.08,"y":0.448},{"id":"04B","v":4,"x":0.067,"y":0.397},{"id":"04B","v":4,"x":-0.005,"y":0.369},{"id":"04B","v":4,"x":-0.153,"y":0.346},{"id":"04B","v":4,"x":-0.251,"y":0.314},{"id":"04B","v":4,"x":-0.258,"y":0.153},{"id":"04B","v":4,"x":-0.267,"y":0.043},{"id":"04B","v":4,"x":-0.326,"y":0.008},{"id":"04B","v":4,"x":-0.431,"y":0.024},{"id":"04B","v":4,"x":-0.487,"y":0.075},{"id":"04B","v":4,"x":-0.497,"y":0.153},{"id":"04B","v":4,"x":-0.477,"y":0.22},{"id":"04B","v":4,"x":-0.536,"y":0.291},
{"id":"04C","v":4,"x":0.395,"y":-0.33},{"id":"04C","v":4,"x":0.421,"y":-0.251},{"id":"04C","v":4,"x":0.463,"y":-0.212},{"id":"04C","v":4,"x":0.539,"y":-0.165},{"id":"04C","v":4,"x":0.634,"y":-0.118},{"id":"04C","v":4,"x":0.732,"y":-0.098},{"id":"04C","v":4,"x":0.808,"y":-0.11},{"id":"04C","v":4,"x":0.831,"y":-0.149},{"id":"04C","v":4,"x":0.84,"y":-0.212},{"id":"04C","v":4,"x":0.814,"y":-0.291},{"id":"04C","v":4,"x":0.772,"y":-0.377},{"id":"04C","v":4,"x":0.722,"y":-0.456},{"id":"04C","v":4,"x":0.667,"y":-0.515},{"id":"04C","v":4,"x":0.601,"y":-0.546},{"id":"04C","v":4,"x":0.529,"y":-0.527},{"id":"04C","v":4,"x":0.463,"y":-0.483},{"id":"04C","v":4,"x":0.421,"y":-0.417},
{"id":"04D","v":4,"x":-0.3,"y":-0.896},{"id":"04D","v":4,"x":-0.287,"y":-0.809},{"id":"04D","v":4,"x":-0.248,"y":-0.723},{"id":"04D","v":4,"x":-0.185,"y":-0.637},{"id":"04D","v":4,"x":-0.11,"y":-0.593},{"id":"04D","v":4,"x":0.005,"y":-0.593},{"id":"04D","v":4,"x":0.044,"y":-0.633},{"id":"04D","v":4,"x":0.073,"y":-0.707},{"id":"04D","v":4,"x":0.133,"y":-0.77},{"id":"04D","v":4,"x":0.185,"y":-0.829},{"id":"04D","v":4,"x":0.201,"y":-0.908},{"id":"04D","v":4,"x":0.2,"y":-0.977},{"id":"04D","v":4,"x":0.1,"y":-0.992},{"id":"04D","v":4,"x":-0.1,"y":-0.992},{"id":"04D","v":4,"x":-0.2,"y":-0.977},{"id":"04D","v":4,"x":-0.29,"y":-0.954},
{"id":"05A","v":5,"x":-0.258,"y":0.762},{"id":"05A","v":5,"x":-0.261,"y":0.849},{"id":"05A","v":5,"x":-0.241,"y":0.927},{"id":"05A","v":5,"x":-0.22,"y":0.973},{"id":"05A","v":5,"x":-0.1,"y":0.992},{"id":"05A","v":5,"x":0.02,"y":0.997},{"id":"05A","v":5,"x":0.09,"y":0.993},{"id":"05A","v":5,"x":0.086,"y":0.939},{"id":"05A","v":5,"x":0.08,"y":0.821},{"id":"05A","v":5,"x":0.083,"y":0.723},{"id":"05A","v":5,"x":0.034,"y":0.668},{"id":"05A","v":5,"x":-0.087,"y":0.656},{"id":"05A","v":5,"x":-0.218,"y":0.692},
{"id":"05B","v":5,"x":-0.53,"y":0.35},{"id":"05B","v":5,"x":-0.464,"y":0.409},{"id":"05B","v":5,"x":-0.382,"y":0.448},{"id":"05B","v":5,"x":-0.284,"y":0.479},{"id":"05B","v":5,"x":-0.186,"y":0.507},{"id":"05B","v":5,"x":-0.071,"y":0.527},{"id":"05B","v":5,"x":0.021,"y":0.519},{"id":"05B","v":5,"x":0.054,"y":0.468},{"id":"05B","v":5,"x":0.047,"y":0.409},{"id":"05B","v":5,"x":-0.031,"y":0.381},{"id":"05B","v":5,"x":-0.163,"y":0.365},{"id":"05B","v":5,"x":-0.261,"y":0.338},{"id":"05B","v":5,"x":-0.274,"y":0.212},{"id":"05B","v":5,"x":-0.284,"y":0.086},{"id":"05B","v":5,"x":-0.346,"y":0.043},{"id":"05B","v":5,"x":-0.425,"y":0.055},{"id":"05B","v":5,"x":-0.464,"y":0.114},{"id":"05B","v":5,"x":-0.454,"y":0.193},{"id":"05B","v":5,"x":-0.497,"y":0.271},
{"id":"05C","v":5,"x":0.414,"y":-0.33},{"id":"05C","v":5,"x":0.44,"y":-0.267},{"id":"05C","v":5,"x":0.486,"y":-0.228},{"id":"05C","v":5,"x":0.552,"y":-0.193},{"id":"05C","v":5,"x":0.644,"y":-0.145},{"id":"05C","v":5,"x":0.726,"y":-0.126},{"id":"05C","v":5,"x":0.788,"y":-0.141},{"id":"05C","v":5,"x":0.808,"y":-0.189},{"id":"05C","v":5,"x":0.801,"y":-0.251},{"id":"05C","v":5,"x":0.768,"y":-0.318},{"id":"05C","v":5,"x":0.716,"y":-0.389},{"id":"05C","v":5,"x":0.667,"y":-0.456},{"id":"05C","v":5,"x":0.611,"y":-0.503},{"id":"05C","v":5,"x":0.536,"y":-0.511},{"id":"05C","v":5,"x":0.48,"y":-0.464},{"id":"05C","v":5,"x":0.437,"y":-0.409},
{"id":"05D","v":5,"x":-0.274,"y":-0.908},{"id":"05D","v":5,"x":-0.261,"y":-0.821},{"id":"05D","v":5,"x":-0.228,"y":-0.739},{"id":"05D","v":5,"x":-0.175,"y":-0.672},{"id":"05D","v":5,"x":-0.11,"y":-0.629},{"id":"05D","v":5,"x":-0.012,"y":-0.621},{"id":"05D","v":5,"x":0.028,"y":-0.672},{"id":"05D","v":5,"x":0.054,"y":-0.75},{"id":"05D","v":5,"x":0.109,"y":-0.809},{"id":"05D","v":5,"x":0.159,"y":-0.861},{"id":"05D","v":5,"x":0.168,"y":-0.927},{"id":"05D","v":5,"x":0.16,"y":-0.984},{"id":"05D","v":5,"x":0.05,"y":-0.996},{"id":"05D","v":5,"x":-0.1,"y":-0.992},{"id":"05D","v":5,"x":-0.26,"y":-0.962},
{"id":"06A","v":6,"x":-0.228,"y":0.762},{"id":"06A","v":6,"x":-0.235,"y":0.849},{"id":"06A","v":6,"x":-0.208,"y":0.939},{"id":"06A","v":6,"x":-0.18,"y":0.981},{"id":"06A","v":6,"x":-0.08,"y":0.994},{"id":"06A","v":6,"x":0.02,"y":0.997},{"id":"06A","v":6,"x":0.06,"y":0.995},{"id":"06A","v":6,"x":0.054,"y":0.919},{"id":"06A","v":6,"x":0.034,"y":0.841},{"id":"06A","v":6,"x":0.044,"y":0.762},{"id":"06A","v":6,"x":0.011,"y":0.703},{"id":"06A","v":6,"x":-0.097,"y":0.684},{"id":"06A","v":6,"x":-0.185,"y":0.715},
{"id":"06B1","v":6,"x":-0.136,"y":0.468},{"id":"06B1","v":6,"x":-0.071,"y":0.487},{"id":"06B1","v":6,"x":0.011,"y":0.475},{"id":"06B1","v":6,"x":0.047,"y":0.444},{"id":"06B1","v":6,"x":0.028,"y":0.401},{"id":"06B1","v":6,"x":-0.054,"y":0.385},{"id":"06B1","v":6,"x":-0.13,"y":0.397},
{"id":"06B2","v":6,"x":-0.464,"y":0.126},{"id":"06B2","v":6,"x":-0.431,"y":0.212},{"id":"06B2","v":6,"x":-0.372,"y":0.275},{"id":"06B2","v":6,"x":-0.3,"y":0.275},{"id":"06B2","v":6,"x":-0.267,"y":0.22},{"id":"06B2","v":6,"x":-0.274,"y":0.134},{"id":"06B2","v":6,"x":-0.3,"y":0.071},{"id":"06B2","v":6,"x":-0.372,"y":0.039},{"id":"06B2","v":6,"x":-0.448,"y":0.055},
{"id":"06B3","v":6,"x":-0.228,"y":0.417},{"id":"06B3","v":6,"x":-0.195,"y":0.448},{"id":"06B3","v":6,"x":-0.159,"y":0.444},{"id":"06B3","v":6,"x":-0.153,"y":0.401},{"id":"06B3","v":6,"x":-0.192,"y":0.381},{"id":"06B3","v":6,"x":-0.228,"y":0.389},
{"id":"06C","v":6,"x":0.427,"y":-0.338},{"id":"06C","v":6,"x":0.46,"y":-0.279},{"id":"06C","v":6,"x":0.513,"y":-0.248},{"id":"06C","v":6,"x":0.585,"y":-0.22},{"id":"06C","v":6,"x":0.65,"y":-0.173},{"id":"06C","v":6,"x":0.722,"y":-0.153},{"id":"06C","v":6,"x":0.775,"y":-0.173},{"id":"06C","v":6,"x":0.781,"y":-0.228},{"id":"06C","v":6,"x":0.755,"y":-0.283},{"id":"06C","v":6,"x":0.699,"y":-0.322},{"id":"06C","v":6,"x":0.65,"y":-0.361},{"id":"06C","v":6,"x":0.617,"y":-0.436},{"id":"06C","v":6,"x":0.568,"y":-0.487},{"id":"06C","v":6,"x":0.513,"y":-0.487},{"id":"06C","v":6,"x":0.46,"y":-0.448},{"id":"06C","v":6,"x":0.434,"y":-0.397},
{"id":"06D","v":6,"x":-0.241,"y":-0.919},{"id":"06D","v":6,"x":-0.228,"y":-0.829},{"id":"06D","v":6,"x":-0.195,"y":-0.754},{"id":"06D","v":6,"x":-0.149,"y":-0.692},{"id":"06D","v":6,"x":-0.097,"y":-0.66},{"id":"06D","v":6,"x":-0.031,"y":-0.656},{"id":"06D","v":6,"x":-0.005,"y":-0.699},{"id":"06D","v":6,"x":0.001,"y":-0.77},{"id":"06D","v":6,"x":0.044,"y":-0.809},{"id":"06D","v":6,"x":0.1,"y":-0.849},{"id":"06D","v":6,"x":0.133,"y":-0.916},{"id":"06D","v":6,"x":0.13,"y":-0.988},{"id":"06D","v":6,"x":0,"y":-0.997},{"id":"06D","v":6,"x":-0.12,"y":-0.99},{"id":"06D","v":6,"x":-0.23,"y":-0.97},
{"id":"07A","v":7,"x":-0.201,"y":0.794},{"id":"07A","v":7,"x":-0.195,"y":0.872},{"id":"07A","v":7,"x":-0.153,"y":0.939},{"id":"07A","v":7,"x":-0.12,"y":0.978},{"id":"07A","v":7,"x":-0.1,"y":0.992},{"id":"07A","v":7,"x":0,"y":0.997},{"id":"07A","v":7,"x":0.04,"y":0.996},{"id":"07A","v":7,"x":0.011,"y":0.959},{"id":"07A","v":7,"x":-0.012,"y":0.88},{"id":"07A","v":7,"x":0.001,"y":0.782},{"id":"07A","v":7,"x":-0.022,"y":0.731},{"id":"07A","v":7,"x":-0.087,"y":0.723},{"id":"07A","v":7,"x":-0.162,"y":0.747},
{"id":"07B","v":7,"x":-0.379,"y":0.212},{"id":"07B","v":7,"x":-0.356,"y":0.259},{"id":"07B","v":7,"x":-0.317,"y":0.271},{"id":"07B","v":7,"x":-0.281,"y":0.24},{"id":"07B","v":7,"x":-0.267,"y":0.189},{"id":"07B","v":7,"x":-0.293,"y":0.153},{"id":"07B","v":7,"x":-0.339,"y":0.145},{"id":"07B","v":7,"x":-0.372,"y":0.173},
{"id":"07C1","v":7,"x":0.437,"y":-0.346},{"id":"07C1","v":7,"x":0.473,"y":-0.283},{"id":"07C1","v":7,"x":0.519,"y":-0.267},{"id":"07C1","v":7,"x":0.572,"y":-0.306},{"id":"07C1","v":7,"x":0.598,"y":-0.385},{"id":"07C1","v":7,"x":0.572,"y":-0.448},{"id":"07C1","v":7,"x":0.519,"y":-0.464},{"id":"07C1","v":7,"x":0.467,"y":-0.432},{"id":"07C1","v":7,"x":0.44,"y":-0.393},
{"id":"07C2","v":7,"x":0.641,"y":-0.228},{"id":"07C2","v":7,"x":0.667,"y":-0.185},{"id":"07C2","v":7,"x":0.716,"y":-0.169},{"id":"07C2","v":7,"x":0.755,"y":-0.2},{"id":"07C2","v":7,"x":0.755,"y":-0.251},{"id":"07C2","v":7,"x":0.716,"y":-0.283},{"id":"07C2","v":7,"x":0.667,"y":-0.275},
{"id":"07D1","v":7,"x":-0.142,"y":-0.692},{"id":"07D1","v":7,"x":-0.12,"y":-0.644},{"id":"07D1","v":7,"x":-0.077,"y":-0.625},{"id":"07D1","v":7,"x":-0.045,"y":-0.644},{"id":"07D1","v":7,"x":-0.035,"y":-0.699},{"id":"07D1","v":7,"x":-0.064,"y":-0.743},{"id":"07D1","v":7,"x":-0.117,"y":-0.75},
{"id":"07D2","v":7,"x":-0.162,"y":-0.935},{"id":"07D2","v":7,"x":-0.143,"y":-0.857},{"id":"07D2","v":7,"x":-0.097,"y":-0.809},{"id":"07D2","v":7,"x":-0.005,"y":-0.786},{"id":"07D2","v":7,"x":0.08,"y":-0.798},{"id":"07D2","v":7,"x":0.126,"y":-0.849},{"id":"07D2","v":7,"x":0.142,"y":-0.919},{"id":"07D2","v":7,"x":0.14,"y":-0.987},{"id":"07D2","v":7,"x":0,"y":-0.997},{"id":"07D2","v":7,"x":-0.15,"y":-0.986},
{"id":"08A","v":8,"x":-0.192,"y":0.809},{"id":"08A","v":8,"x":-0.175,"y":0.88},{"id":"08A","v":8,"x":-0.136,"y":0.927},{"id":"08A","v":8,"x":-0.104,"y":0.971},{"id":"08A","v":8,"x":-0.09,"y":0.993},{"id":"08A","v":8,"x":-0.01,"y":0.997},{"id":"08A","v":8,"x":-0.012,"y":0.959},{"id":"08A","v":8,"x":-0.031,"y":0.896},{"id":"08A","v":8,"x":-0.018,"y":0.794},{"id":"08A","v":8,"x":-0.045,"y":0.747},{"id":"08A","v":8,"x":-0.104,"y":0.747},{"id":"08A","v":8,"x":-0.162,"y":0.77},
{"id":"08B","v":8,"x":-0.369,"y":0.208},{"id":"08B","v":8,"x":-0.346,"y":0.248},{"id":"08B","v":8,"x":-0.313,"y":0.251},{"id":"08B","v":8,"x":-0.287,"y":0.224},{"id":"08B","v":8,"x":-0.281,"y":0.189},{"id":"08B","v":8,"x":-0.307,"y":0.169},{"id":"08B","v":8,"x":-0.346,"y":0.165},
{"id":"08C1","v":8,"x":0.427,"y":-0.358},{"id":"08C1","v":8,"x":0.46,"y":-0.318},{"id":"08C1","v":8,"x":0.48,"y":-0.267},{"id":"08C1","v":8,"x":0.506,"y":-0.291},{"id":"08C1","v":8,"x":0.559,"y":-0.33},{"id":"08C1","v":8,"x":0.585,"y":-0.393},{"id":"08C1","v":8,"x":0.565,"y":-0.448},{"id":"08C1","v":8,"x":0.519,"y":-0.472},{"id":"08C1","v":8,"x":0.47,"y":-0.448},{"id":"08C1","v":8,"x":0.437,"y":-0.409},
{"id":"08C2","v":8,"x":0.667,"y":-0.208},{"id":"08C2","v":8,"x":0.683,"y":-0.193},{"id":"08C2","v":8,"x":0.699,"y":-0.22},{"id":"08C2","v":8,"x":0.686,"y":-0.244},{"id":"08C2","v":8,"x":0.67,"y":-0.236},
{"id":"08D","v":8,"x":-0.13,"y":-0.947},{"id":"08D","v":8,"x":-0.11,"y":-0.88},{"id":"08D","v":8,"x":-0.071,"y":-0.833},{"id":"08D","v":8,"x":0.011,"y":-0.817},{"id":"08D","v":8,"x":0.08,"y":-0.829},{"id":"08D","v":8,"x":0.116,"y":-0.88},{"id":"08D","v":8,"x":0.126,"y":-0.947},{"id":"08D","v":8,"x":0.12,"y":-0.99},{"id":"08D","v":8,"x":0,"y":-0.997},{"id":"08D","v":8,"x":-0.12,"y":-0.99},
{"id":"09A","v":9,"x":-0.182,"y":0.841},{"id":"09A","v":9,"x":-0.159,"y":0.876},{"id":"09A","v":9,"x":-0.117,"y":0.88},{"id":"09A","v":9,"x":-0.077,"y":0.841},{"id":"09A","v":9,"x":-0.058,"y":0.794},{"id":"09A","v":9,"x":-0.084,"y":0.766},{"id":"09A","v":9,"x":-0.136,"y":0.774},{"id":"09A","v":9,"x":-0.175,"y":0.809},
{"id":"09B","v":9,"x":-0.359,"y":0.212},{"id":"09B","v":9,"x":-0.339,"y":0.228},{"id":"09B","v":9,"x":-0.31,"y":0.228},{"id":"09B","v":9,"x":-0.297,"y":0.204},{"id":"09B","v":9,"x":-0.313,"y":0.185},{"id":"09B","v":9,"x":-0.346,"y":0.185},
{"id":"09C","v":9,"x":0.431,"y":-0.361},{"id":"09C","v":9,"x":0.46,"y":-0.334},{"id":"09C","v":9,"x":0.496,"y":-0.33},{"id":"09C","v":9,"x":0.539,"y":-0.361},{"id":"09C","v":9,"x":0.575,"y":-0.401},{"id":"09C","v":9,"x":0.572,"y":-0.448},{"id":"09C","v":9,"x":0.529,"y":-0.464},{"id":"09C","v":9,"x":0.486,"y":-0.436},{"id":"09C","v":9,"x":0.447,"y":-0.401},
{"id":"09D","v":9,"x":-0.077,"y":-0.857},{"id":"09D","v":9,"x":-0.038,"y":-0.829},{"id":"09D","v":9,"x":0.028,"y":-0.821},{"id":"09D","v":9,"x":0.08,"y":-0.841},{"id":"09D","v":9,"x":0.096,"y":-0.88},{"id":"09D","v":9,"x":0.06,"y":-0.912},{"id":"09D","v":9,"x":0.011,"y":-0.935},{"id":"09D","v":9,"x":-0.025,"y":-0.927},{"id":"09D","v":9,"x":-0.054,"y":-0.896},
{"id":"10A","v":10,"x":-0.166,"y":0.841},{"id":"10A","v":10,"x":-0.136,"y":0.861},{"id":"10A","v":10,"x":-0.107,"y":0.841},{"id":"10A","v":10,"x":-0.084,"y":0.802},{"id":"10A","v":10,"x":-0.1,"y":0.778},{"id":"10A","v":10,"x":-0.143,"y":0.798},
{"id":"10C","v":10,"x":0.44,"y":-0.369},{"id":"10C","v":10,"x":0.473,"y":-0.35},{"id":"10C","v":10,"x":0.509,"y":-0.361},{"id":"10C","v":10,"x":0.529,"y":-0.401},{"id":"10C","v":10,"x":0.519,"y":-0.436},{"id":"10C","v":10,"x":0.483,"y":-0.417},{"id":"10C","v":10,"x":0.45,"y":-0.393},
{"id":"10D","v":10,"x":0.011,"y":-0.864},{"id":"10D","v":10,"x":0.034,"y":-0.857},{"id":"10D","v":10,"x":0.057,"y":-0.868},{"id":"10D","v":10,"x":0.054,"y":-0.892},{"id":"10D","v":10,"x":0.024,"y":-0.9}
]
},
"hconcat": [
{
"width": 677, "height": 565,
"view": {"stroke": null},
"encoding": {
"x": {"field": "x", "type": "quantitative", "scale": {"domain": [-1.11963, 1.09932], "nice": false, "zero": false}, "axis": null},
"y": {"field": "y", "type": "quantitative", "scale": {"domain": [-1.10098, 1.11906], "nice": false, "zero": false}, "axis": null}
},
"layer": [
{"data": {"name": "dens"}, "mark": {"type": "line", "interpolate": "cardinal-closed", "strokeWidth": 0}, "encoding": {"detail": {"field": "id", "type": "nominal"}, "fill": {"field": "v", "type": "ordinal", "scale": {"domain": [2,3,4,5,6,7,8,9,10], "range": ["#e8e9f1","#d0ecef","#aef0dc","#9af0a6","#8cee72","#c6f04c","#ffe03c","#ff7c1c","#ff0000"]}, "legend": null}, "order": {"value": null}}},
{"data": {"name": "net"}, "mark": {"type": "line", "interpolate": "catmull-rom", "stroke": "#c4c4c4", "strokeWidth": 1.1}, "encoding": {"detail": {"field": "l", "type": "nominal"}, "order": {"value": null}}},
{"data": {"name": "net"}, "transform": [{"filter": "abs(datum.p) < 90"}], "mark": {"type": "line", "interpolate": "catmull-rom", "stroke": "#c4c4c4", "strokeWidth": 1.1}, "encoding": {"detail": {"field": "p", "type": "nominal"}, "order": {"value": null}}},
{"data": {"name": "net"}, "transform": [{"filter": "abs(datum.l) == 90"}], "mark": {"type": "line", "interpolate": "catmull-rom", "stroke": "#222222", "strokeWidth": 1.4}, "encoding": {"detail": {"field": "l", "type": "nominal"}, "order": {"value": null}}},
{"data": {"name": "ticks"}, "mark": {"type": "rule", "stroke": "#222222", "strokeWidth": 1.2}, "encoding": {"x2": {"field": "x2"}, "y2": {"field": "y2"}}},
{"data": {"values": [{"x": 0, "y": 0}]}, "mark": {"type": "point", "shape": "M-1,0L1,0M0,-1L0,1", "size": 400, "filled": false, "stroke": "#111111", "strokeWidth": 1.3, "opacity": 1}},
{"data": {"values": [{"t": "N", "x": 0, "y": 1.056}, {"t": "S", "x": 0, "y": -1.066}, {"t": "W", "x": -1.064, "y": 0}, {"t": "E", "x": 1.062, "y": 0}]}, "mark": {"type": "text", "font": "Liberation Sans", "fontSize": 18, "fill": "#1c2433", "baseline": "middle", "align": "center"}, "encoding": {"text": {"field": "t"}}}
]
},
{
"vconcat": [
{
"width": 493, "height": 26,
"data": {"values": [{"c": "color", "t": "Color"}, {"c": "dens", "t": "Density Concentrations"}]},
"layer": [
{"mark": {"type": "rule", "stroke": "#777777", "strokeWidth": 1.5}, "encoding": {"x": {"datum": 29.8, "type": "quantitative", "scale": {"domain": [0, 100], "nice": false}, "axis": null}}},
{"transform": [{"filter": "datum.c == 'color'"}], "mark": {"type": "text", "font": "DejaVu Sans", "fontSize": 13.5, "fontWeight": "bold", "fill": "#1a1a1a", "baseline": "middle"}, "encoding": {"x": {"datum": 14.9, "type": "quantitative", "scale": {"domain": [0, 100], "nice": false}, "axis": null}, "text": {"field": "t"}}},
{"transform": [{"filter": "datum.c == 'dens'"}], "mark": {"type": "text", "font": "DejaVu Sans", "fontSize": 13.5, "fontWeight": "bold", "fill": "#1a1a1a", "baseline": "middle"}, "encoding": {"x": {"datum": 64.9, "type": "quantitative", "scale": {"domain": [0, 100], "nice": false}, "axis": null}, "text": {"field": "t"}}}
]
},
{
"width": 493, "height": 190,
"data": {"values": [{"b": 1, "lo": 0, "hi": 1.5}, {"b": 2, "lo": 1.5, "hi": 3}, {"b": 3, "lo": 3, "hi": 4.5}, {"b": 4, "lo": 4.5, "hi": 6}, {"b": 5, "lo": 6, "hi": 7.5}, {"b": 6, "lo": 7.5, "hi": 9}, {"b": 7, "lo": 9, "hi": 10.5}, {"b": 8, "lo": 10.5, "hi": 12}, {"b": 9, "lo": 12, "hi": 13.5}, {"b": 10, "lo": 13.5, "hi": 15}]},
"encoding": {"y": {"field": "b", "type": "ordinal", "axis": null, "scale": {"paddingInner": 0, "paddingOuter": 0}}},
"layer": [
{"mark": {"type": "rect"}, "encoding": {"x": {"datum": 0.2, "type": "quantitative", "scale": {"domain": [0, 100], "nice": false}, "axis": null}, "x2": {"datum": 29.8}, "fill": {"field": "b", "type": "ordinal", "scale": {"range": ["#ffffff","#e8e9f1","#d0ecef","#aef0dc","#9af0a6","#8cee72","#c6f04c","#ffe03c","#ff7c1c","#ff0000"]}, "legend": null}}},
{"mark": {"type": "rule", "stroke": "#777777", "strokeWidth": 1.5}, "encoding": {"x": {"datum": 29.8, "type": "quantitative", "scale": {"domain": [0, 100], "nice": false}, "axis": null}, "y": null}},
{"mark": {"type": "text", "font": "DejaVu Sans", "fontSize": 13, "fill": "#333333", "align": "right", "baseline": "middle"}, "encoding": {"x": {"datum": 58.6, "type": "quantitative", "scale": {"domain": [0, 100], "nice": false}, "axis": null}, "text": {"field": "lo", "type": "quantitative", "format": ".2f"}}},
{"mark": {"type": "text", "font": "DejaVu Sans", "fontSize": 13, "fill": "#777777", "align": "center", "baseline": "middle"}, "encoding": {"x": {"datum": 65.1, "type": "quantitative", "scale": {"domain": [0, 100], "nice": false}, "axis": null}, "text": {"value": "-"}}},
{"mark": {"type": "text", "font": "DejaVu Sans", "fontSize": 13, "fill": "#333333", "align": "left", "baseline": "middle"}, "encoding": {"x": {"datum": 71.2, "type": "quantitative", "scale": {"domain": [0, 100], "nice": false}, "axis": null}, "text": {"field": "hi", "type": "quantitative", "format": ".2f"}}}
]
},
{
"width": 493, "height": 101,
"data": {"values": [{"r": 1, "k": "Contour Data", "v": "Pole Vectors"}, {"r": 2, "k": "Maximum Density", "v": "14.23%"}, {"r": 3, "k": "Contour Distribution", "v": "Fisher"}, {"r": 4, "k": "Counting Circle Size", "v": "1.0%"}]},
"encoding": {"y": {"field": "r", "type": "ordinal", "axis": null, "scale": {"paddingInner": 0, "paddingOuter": 0}}},
"layer": [
{"transform": [{"filter": "datum.r > 1"}], "mark": {"type": "rule", "stroke": "#8a8a8a", "strokeWidth": 1.2}, "encoding": {"y": {"field": "r", "type": "ordinal", "bandPosition": 0, "axis": null, "scale": {"paddingInner": 0, "paddingOuter": 0}}}},
{"mark": {"type": "rule", "stroke": "#8a8a8a", "strokeWidth": 1.2}, "encoding": {"x": {"datum": 55.1, "type": "quantitative", "scale": {"domain": [0, 100], "nice": false}, "axis": null}, "y": null}},
{"mark": {"type": "text", "font": "DejaVu Sans", "fontSize": 13.5, "fontWeight": "bold", "fill": "#1a1a1a", "align": "right", "baseline": "middle"}, "encoding": {"x": {"datum": 52.3, "type": "quantitative", "scale": {"domain": [0, 100], "nice": false}, "axis": null}, "text": {"field": "k"}}},
{"mark": {"type": "text", "font": "DejaVu Sans", "fontSize": 13.5, "fill": "#3a3a3a", "align": "left", "baseline": "middle"}, "encoding": {"x": {"datum": 57.2, "type": "quantitative", "scale": {"domain": [0, 100], "nice": false}, "axis": null}, "text": {"field": "v"}}}
]
},
{
"width": 493, "height": 7,
"view": {"stroke": null},
"data": {"values": [{"s": ""}]},
"mark": {"type": "text"},
"encoding": {"text": {"field": "s"}}
},
{
"width": 493, "height": 102,
"data": {"values": [{"r": 1, "k": "Plot Mode", "v": "Pole Vectors"}, {"r": 2, "k": "Vector Count", "v": "50 (50 Entries)"}, {"r": 3, "k": "Hemisphere", "v": "Lower"}, {"r": 4, "k": "Projection", "v": "Equal Angle"}]},
"encoding": {"y": {"field": "r", "type": "ordinal", "axis": null, "scale": {"paddingInner": 0, "paddingOuter": 0}}},
"layer": [
{"transform": [{"filter": "datum.r > 1"}], "mark": {"type": "rule", "stroke": "#8a8a8a", "strokeWidth": 1.2}, "encoding": {"y": {"field": "r", "type": "ordinal", "bandPosition": 0, "axis": null, "scale": {"paddingInner": 0, "paddingOuter": 0}}}},
{"mark": {"type": "rule", "stroke": "#8a8a8a", "strokeWidth": 1.2}, "encoding": {"x": {"datum": 55.1, "type": "quantitative", "scale": {"domain": [0, 100], "nice": false}, "axis": null}, "y": null}},
{"mark": {"type": "text", "font": "DejaVu Sans", "fontSize": 13.5, "fontWeight": "bold", "fill": "#1a1a1a", "align": "right", "baseline": "middle"}, "encoding": {"x": {"datum": 52.3, "type": "quantitative", "scale": {"domain": [0, 100], "nice": false}, "axis": null}, "text": {"field": "k"}}},
{"mark": {"type": "text", "font": "DejaVu Sans", "fontSize": 13.5, "fill": "#3a3a3a", "align": "left", "baseline": "middle"}, "encoding": {"x": {"datum": 57.2, "type": "quantitative", "scale": {"domain": [0, 100], "nice": false}, "axis": null}, "text": {"field": "v"}}}
]
}
],
"spacing": 0,
"bounds": "flush"
}
]
}
